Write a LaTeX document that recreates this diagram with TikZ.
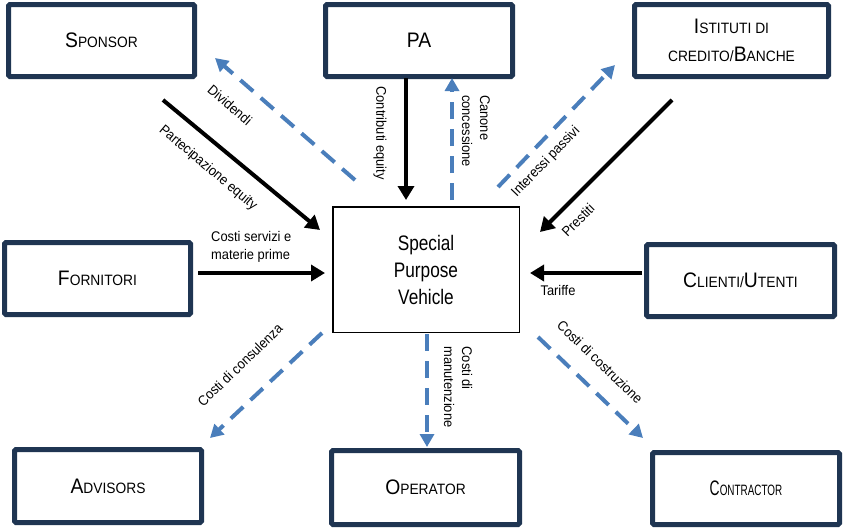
\documentclass[tikz,border=0pt]{standalone}
\usepackage{fontspec}
\setmainfont{Liberation Sans}[FakeStretch=0.92]
\newfontfamily\spvfont{Liberation Sans}[FakeStretch=0.82]
\newfontfamily\tightfont{Liberation Sans}[FakeStretch=0.66]
\usetikzlibrary{arrows.meta, positioning}
\definecolor{boxnavy}{RGB}{31,53,82}
\definecolor{flowblue}{RGB}{74,126,187}
\newcommand{\fakesc}[2]{{\fontsize{21}{28}\selectfont #1}{\fontsize{15}{28}\selectfont #2}}
\tikzstyle{party} = [rectangle, draw=boxnavy, line width=5pt, rounded corners=1.5pt, minimum width=187pt, minimum height=72pt, inner sep=0pt, align=center, font=\fontsize{21}{28}\selectfont]
\tikzstyle{spv} = [rectangle, draw, line width=1.5pt, minimum width=186.5pt, minimum height=125.5pt, align=center, font=\spvfont\fontsize{21}{27}\selectfont]
\tikzstyle{cash} = [draw, line width=4pt, -{Triangle[length=14pt, width=16pt]}]
\tikzstyle{payback} = [draw=flowblue, line width=4pt, dash pattern=on 17pt off 10pt, -{Triangle[length=13pt, width=14pt]}]
\tikzstyle{lbl} = [font=\fontsize{14}{18}\selectfont, inner sep=0pt]

\begin{document}
\begin{tikzpicture}[x=1pt, y=-1pt]
			\useasboundingbox (0,0) rectangle (843,528);
			
			% boxes
			\node [party, minimum width=186pt] (sponsor) at (101.5, 40.5) {\fakesc{S}{PONSOR}};
			\node [party] (pa) at (419, 40.5) {\fakesc{P}{}\fakesc{A}{}};
			\node [party, minimum width=194pt] (banche) at (731.5, 40.5) {\fakesc{I}{STITUTI DI}\\{\fontsize{15}{28}\selectfont CREDITO/}\fakesc{B}{ANCHE}};
			\node [party, minimum width=186pt] (fornitori) at (97.5, 278.5) {\fakesc{F}{ORNITORI}};
			\node [spv] (spv) at (426, 269.5) {Special\\Purpose\\Vehicle};
			\node [party, minimum width=188pt] (clienti) at (740.5, 280.5) {\fakesc{C}{LIENTI/}\fakesc{U}{TENTI}};
			\node [party, minimum height=73pt] (advisors) at (108, 486) {\fakesc{A}{DVISORS}};
			\node [party, minimum width=188pt, minimum height=74pt] (operator) at (425.5, 487.5) {\fakesc{O}{PERATOR}};
			\node [party] (contractor) at (746, 488.5) {\tightfont\fakesc{C}{ONTRACTOR}};
			
			% arrow ends
			\coordinate (part-a) at (163, 100);
			\coordinate (part-b) at (320, 230);
			\coordinate (div-a) at (355, 180);
			\coordinate (div-b) at (215, 58);
			\coordinate (contr-a) at (406, 78);
			\coordinate (contr-b) at (406, 200);
			\coordinate (can-a) at (452, 200);
			\coordinate (can-b) at (452, 78);
			\coordinate (int-a) at (498, 187);
			\coordinate (int-b) at (615, 65);
			\coordinate (prest-a) at (672, 100);
			\coordinate (prest-b) at (540, 232);
			\coordinate (serv-a) at (198, 273);
			\coordinate (serv-b) at (325, 273);
			\coordinate (tar-a) at (642, 273);
			\coordinate (tar-b) at (530, 273);
			\coordinate (cons-a) at (322, 333);
			\coordinate (cons-b) at (210, 438);
			\coordinate (man-a) at (427, 334);
			\coordinate (man-b) at (427, 447);
			\coordinate (cost-a) at (538, 337);
			\coordinate (cost-b) at (643, 438);
			
			\path [cash] (part-a) -- (part-b);
			\path [payback] (div-a) -- (div-b);
			\path [cash] (contr-a) -- (contr-b);
			\path [payback] (can-a) -- (can-b);
			\path [payback] (int-a) -- (int-b);
			\path [cash] (prest-a) -- (prest-b);
			\path [cash] (serv-a) -- (serv-b);
			\path [cash] (tar-a) -- (tar-b);
			\path [payback] (cons-a) -- (cons-b);
			\path [payback] (man-a) -- (man-b);
			\path [payback] (cost-a) -- (cost-b);
			
			% labels
			\node [lbl, rotate=-41] (l-div) at (230, 105) {Dividendi};
			\node [lbl, rotate=-40] (l-part) at (208, 168) {Partecipazione equity};
			\node [lbl, rotate=-90] (l-contr) at (380, 133) {Contributi equity};
			\node [lbl, rotate=-90, align=left] (l-can) at (476, 131) {Canone\\concessione};
			\node [lbl, rotate=46] (l-int) at (546, 162) {Interessi passivi};
			\node [lbl, rotate=45] (l-prest) at (578, 220) {Prestiti};
			\node [lbl, align=left, anchor=west] (l-serv) at (211, 247) {Costi servizi e\\materie prime};
			\node [lbl] (l-tar) at (558, 290) {Tariffe};
			\node [lbl, rotate=44] (l-cons) at (240, 365) {Costi di consulenza};
			\node [lbl, rotate=-90, align=left] (l-man) at (458, 387) {Costi di\\manutenzione};
			\node [lbl, rotate=-44] (l-cost) at (600, 362) {Costi di costruzione};
		\end{tikzpicture}
\end{document}
